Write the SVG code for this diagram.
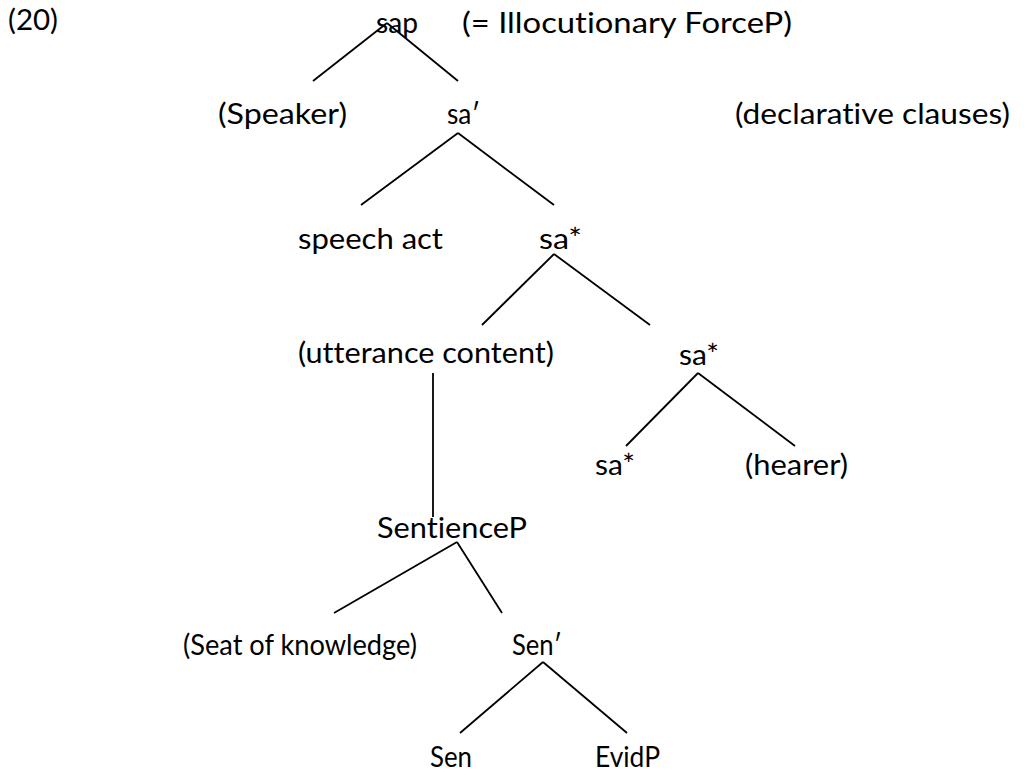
<svg xmlns="http://www.w3.org/2000/svg" width="1025" height="773" viewBox="0 0 1025 773">
<style>
text{font-family:Lato,"Open Sans","Liberation Sans",sans-serif;font-size:28px;fill:#000;font-variant-ligatures:none;font-feature-settings:"liga" 0,"clig" 0}
line{stroke:#000;stroke-width:1.8;stroke-linecap:butt}
</style>
<rect width="1025" height="773" fill="#fff"/>
<g id="connectors">
<line x1="387" y1="23" x2="313" y2="81"/>
<line x1="387" y1="23" x2="458" y2="81"/>
<line x1="458" y1="133" x2="361" y2="205"/>
<line x1="458" y1="133" x2="554" y2="205"/>
<line x1="554" y1="254" x2="482" y2="325"/>
<line x1="554" y1="254" x2="650" y2="325"/>
<line x1="433" y1="373" x2="433" y2="517"/>
<line x1="698" y1="373" x2="626" y2="446"/>
<line x1="698" y1="373" x2="795" y2="446"/>
<line x1="457" y1="542" x2="334" y2="613"/>
<line x1="457" y1="542" x2="502" y2="613"/>
<line x1="543" y1="662" x2="460" y2="733"/>
<line x1="543" y1="662" x2="627" y2="733"/>
</g>
<g id="label20"><text x="8" y="30" textLength="50" lengthAdjust="spacingAndGlyphs">(20)</text></g>
<g id="sap"><text x="376" y="33" textLength="42" lengthAdjust="spacingAndGlyphs">sap</text></g>
<g id="forceP-note"><text x="462" y="33" textLength="330" lengthAdjust="spacingAndGlyphs">(= Illocutionary ForceP)</text></g>
<g id="speaker"><text x="218" y="124" textLength="129" lengthAdjust="spacingAndGlyphs">(Speaker)</text></g>
<g id="sa-bar"><text x="447" y="124" textLength="33" lengthAdjust="spacingAndGlyphs">sa′</text></g>
<g id="declarative-note"><text x="735" y="124" textLength="275" lengthAdjust="spacingAndGlyphs">(declarative clauses)</text></g>
<g id="speech-act"><text x="298" y="249" textLength="145" lengthAdjust="spacingAndGlyphs">speech act</text></g>
<g id="sa-star-1"><text x="539" y="249" textLength="43" lengthAdjust="spacingAndGlyphs">sa*</text></g>
<g id="utterance-content"><text x="298" y="363" textLength="256" lengthAdjust="spacingAndGlyphs">(utterance content)</text></g>
<g id="sa-star-2"><text x="679" y="365" textLength="40" lengthAdjust="spacingAndGlyphs">sa*</text></g>
<g id="sa-star-3"><text x="595" y="475" textLength="40" lengthAdjust="spacingAndGlyphs">sa*</text></g>
<g id="hearer"><text x="745" y="475" textLength="103" lengthAdjust="spacingAndGlyphs">(hearer)</text></g>
<g id="sentienceP"><text x="377" y="538" textLength="150" lengthAdjust="spacingAndGlyphs">SentienceP</text></g>
<g id="seat-of-knowledge"><text x="183" y="655" textLength="234" lengthAdjust="spacingAndGlyphs">(Seat of knowledge)</text></g>
<g id="sen-bar"><text x="512" y="655" textLength="50" lengthAdjust="spacingAndGlyphs">Sen′</text></g>
<g id="sen"><text x="430" y="767" textLength="42" lengthAdjust="spacingAndGlyphs">Sen</text></g>
<g id="evidP"><text x="595" y="767" textLength="65" lengthAdjust="spacingAndGlyphs">EvidP</text></g>
</svg>
